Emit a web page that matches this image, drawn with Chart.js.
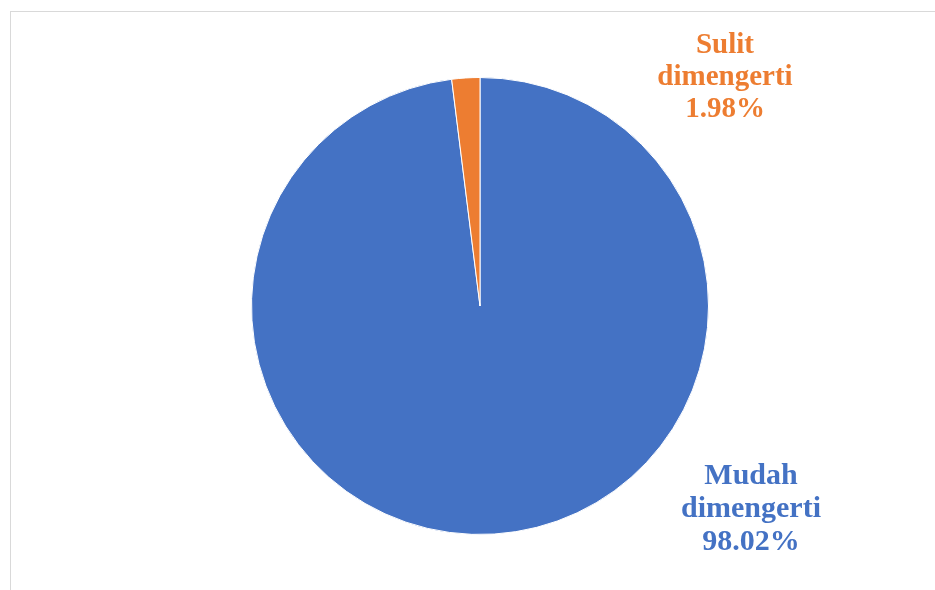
<!DOCTYPE html>
<html>
<head>
<meta charset="utf-8">
<title>Pemahaman</title>
<script src="https://cdn.jsdelivr.net/npm/chart.js@4/dist/chart.umd.min.js"></script>
<style>
    html, body { margin: 0; padding: 0; background: #fff; }
    #wrap { width: 935px; height: 590px; position: relative; }
</style>
</head>
<body>
<div id="wrap"><canvas id="pieChart"></canvas></div>
<script>
// category labels (drawn on two lines) and shares in percent
const categories = [['Mudah', 'dimengerti'], ['Sulit', 'dimengerti']];
const shares = [98.02, 1.98];
const colors = ['#4472C4', '#ED7D31'];

// label block placement: baseline of the middle line relative to the pie centre
const labelStyles = [
    { dx: 271, dy: 211, size: 30, lead: 33 },
    { dx: 245, dy: -221, size: 29, lead: 32 }
];

// light frame around the chart
const framePlugin = {
    id: 'frame',
    beforeDraw(chart) {
        const ctx = chart.ctx;
        ctx.save();
        ctx.strokeStyle = '#d9d9d9';
        ctx.lineWidth = 1;
        ctx.strokeRect(10.5, 11.5, chart.width + 10, chart.height + 10);
        ctx.restore();
    }
};

// category name + percentage next to each slice
const sliceLabels = {
    id: 'sliceLabels',
    afterDatasetsDraw(chart) {
        const ctx = chart.ctx;
        const arcs = chart.getDatasetMeta(0).data;
        ctx.save();
        ctx.textAlign = 'center';
        ctx.textBaseline = 'alphabetic';
        arcs.forEach((arc, i) => {
            const st = labelStyles[i];
            const cx = arc.x + st.dx;
            const cy = arc.y + st.dy;
            const lines = categories[i].concat([shares[i].toFixed(2) + '%']);
            ctx.font = 'bold ' + st.size + 'px "Liberation Serif", "Times New Roman", serif';
            ctx.fillStyle = colors[i];
            lines.forEach((t, k) => {
                ctx.fillText(t, cx, cy + (k - 1) * st.lead);
            });
        });
        ctx.restore();
    }
};

new Chart(document.getElementById('pieChart'), {
    type: 'pie',
    data: {
        labels: categories.map(c => c.join(' ')),
        datasets: [{
            data: shares,
            backgroundColor: colors,
            borderColor: '#ffffff',
            borderWidth: 1
        }]
    },
    options: {
        responsive: true,
        maintainAspectRatio: false,
        animation: false,
        layout: { padding: { top: 77, bottom: 55, left: 251, right: 226 } },
        plugins: {
            legend: { display: false },
            tooltip: { enabled: false }
        }
    },
    plugins: [framePlugin, sliceLabels]
});
</script>
</body>
</html>
